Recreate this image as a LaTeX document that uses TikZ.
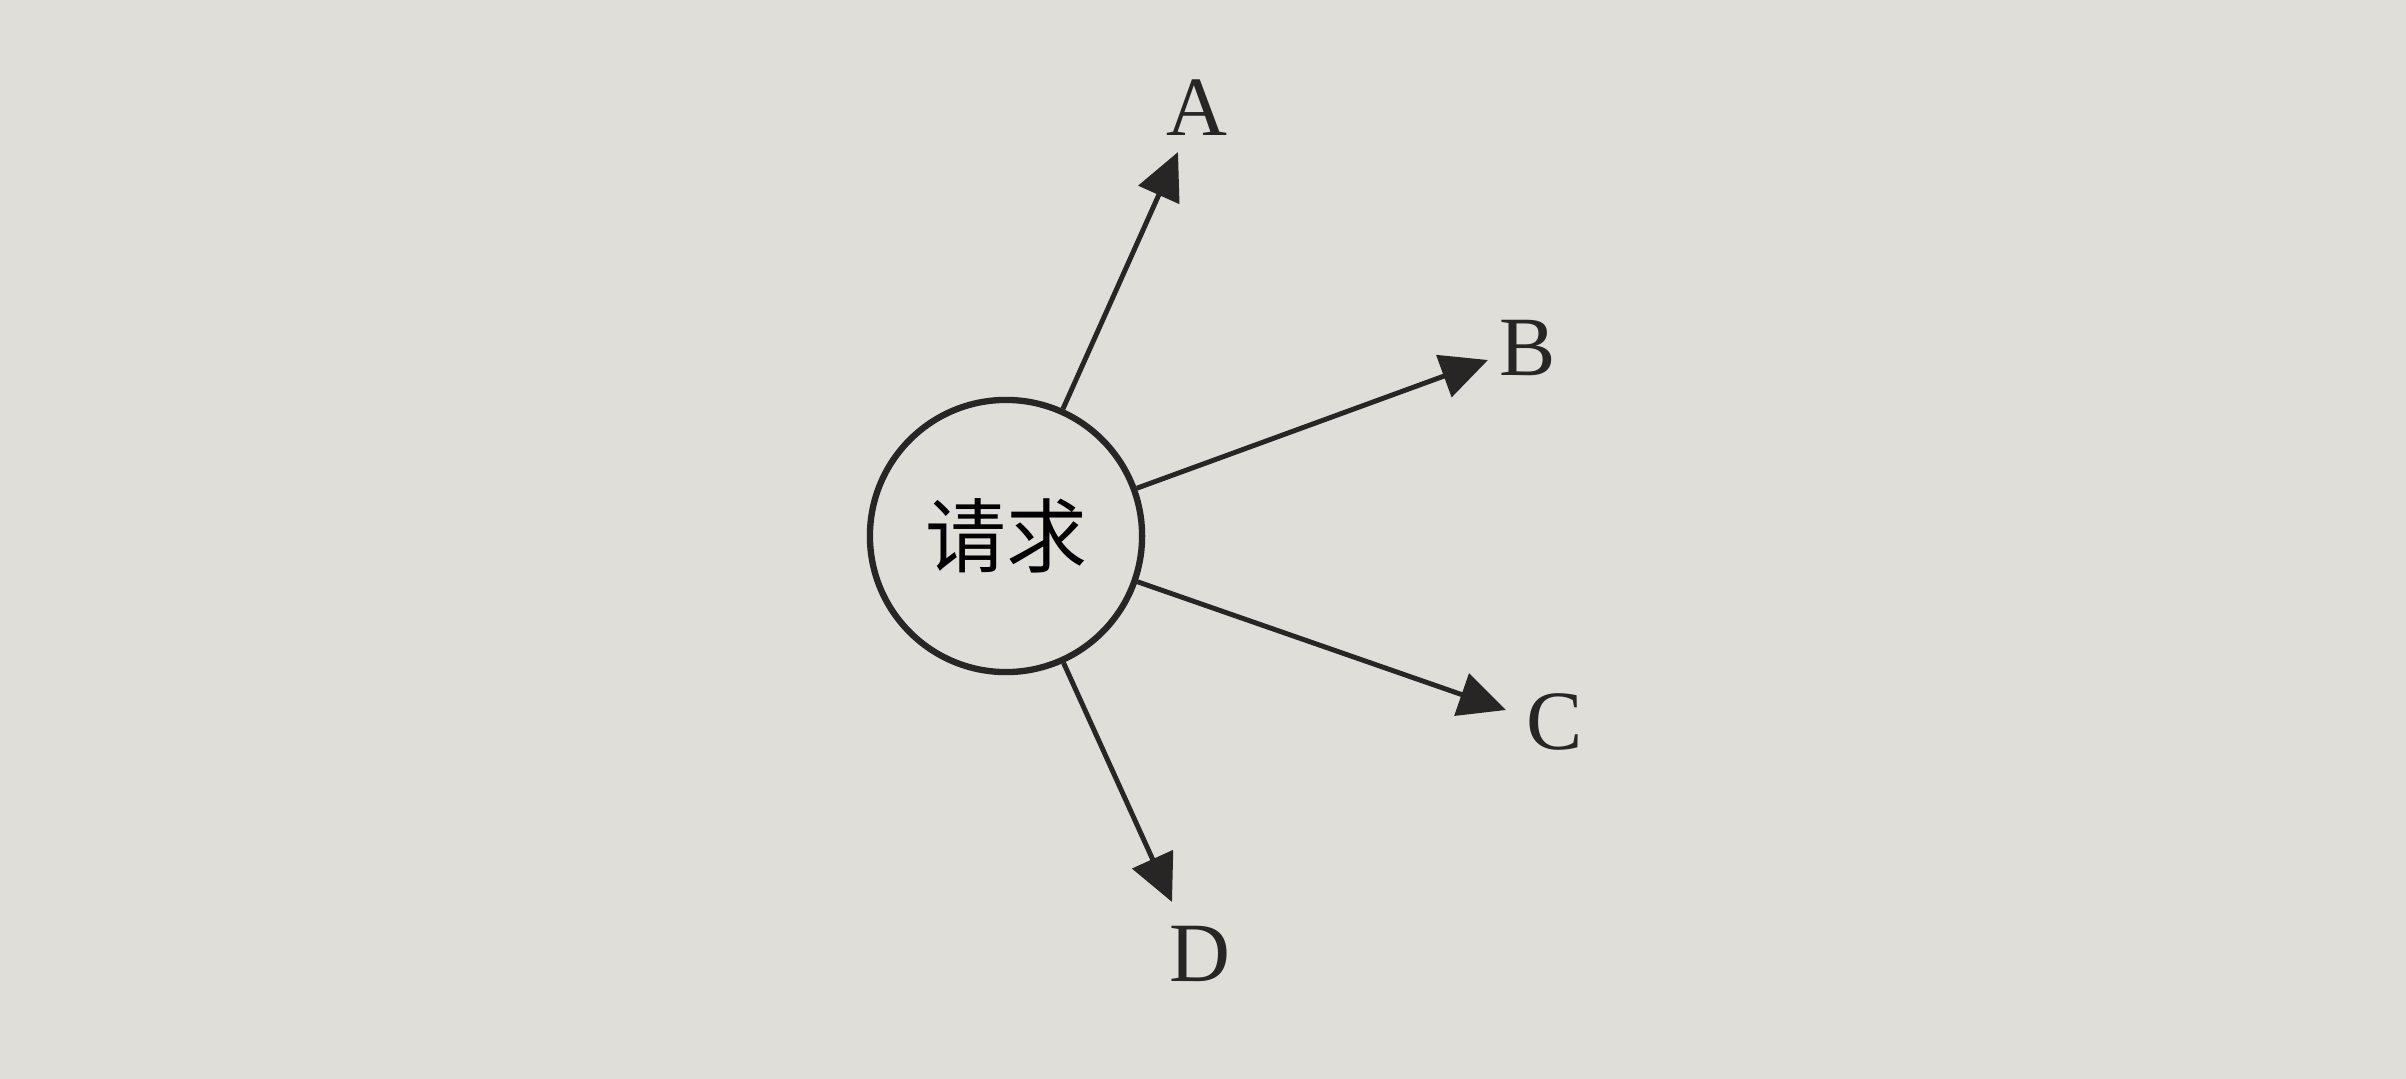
\documentclass[tikz,border=0pt]{standalone}
\usepackage{fontspec}
\setmainfont{Liberation Serif}
\newfontfamily\cjk{Noto Sans CJK SC}
\usetikzlibrary{arrows.meta}
\definecolor{paper}{RGB}{224,222,217}
\definecolor{ink}{RGB}{40,38,36}

\begin{document}
\begin{tikzpicture}[x=0.01cm,y=-0.01cm,
  request/.style={circle, draw=ink, line width=1.8pt, minimum size=2.72cm, inner sep=0pt, font=\cjk\fontsize{23}{23}\selectfont},
  target/.style={text=ink, inner sep=0pt, font=\fontsize{24}{24}\selectfont},
  link/.style={-{Triangle[length=0.47cm,width=0.44cm]}, line width=1.4pt, draw=ink}]

% Page
\fill[paper] (0,0) rectangle (2406,1079);
\useasboundingbox (0,0) rectangle (2406,1079);

% Centre
\node[request] (req) at (1006,536) {请求};

% Arrow tips
\coordinate (tipA) at (1178,152);
\coordinate (tipB) at (1488,360);
\coordinate (tipC) at (1506,710);
\coordinate (tipD) at (1172,902);

% Labels
\node[target] (A) at (1197,108) {A};
\node[target] (B) at (1528,348) {B};
\node[target] (C) at (1555,722) {C};
\node[target] (D) at (1200,954) {D};

% Arrows
\draw[link] (req) -- (tipA);
\draw[link] (req) -- (tipB);
\draw[link] (req) -- (tipC);
\draw[link] (req) -- (tipD);

\end{tikzpicture}
\end{document}
